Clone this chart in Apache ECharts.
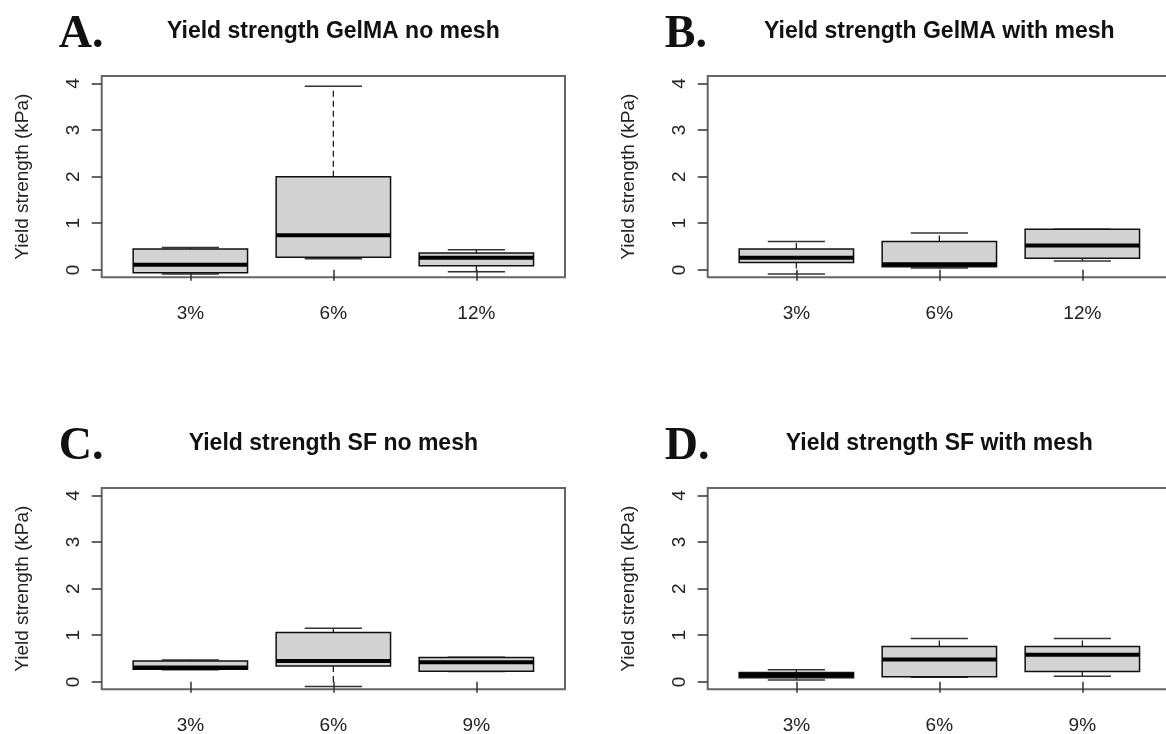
<!DOCTYPE html>
<html><head><meta charset="utf-8">
<script src="https://cdn.jsdelivr.net/npm/echarts@6/dist/echarts.min.js"></script>
<style>html,body{margin:0;padding:0;background:#fff}#c{width:1166px;height:734px}</style>
</head><body><div id="c"></div>
<script>
const catsGelMA = ['3%', '6%', '12%'];
const catsSF = ['3%', '6%', '9%'];
const yTicks = [0, 1, 2, 3, 4];
const panelLetters = ['A.', 'B.', 'C.', 'D.'];
const panelTitles = ['Yield strength GelMA no mesh', 'Yield strength GelMA with mesh', 'Yield strength SF no mesh', 'Yield strength SF with mesh'];
const yAxisName = 'Yield strength (kPa)';
// each box: [min, Q1, median, Q3, max]
const gelmaNoMesh = [[-0.09, -0.06, 0.11, 0.45, 0.48], [0.24, 0.27, 0.74, 2.0, 3.94], [-0.04, 0.09, 0.26, 0.36, 0.43]];
const gelmaMesh = [[-0.09, 0.16, 0.26, 0.45, 0.61], [0.04, 0.065, 0.12, 0.61, 0.79], [0.19, 0.25, 0.52, 0.87, 0.87]];
const sfNoMesh = [[0.26, 0.27, 0.31, 0.45, 0.47], [-0.1, 0.34, 0.45, 1.06, 1.15], [0.22, 0.23, 0.42, 0.52, 0.53]];
const sfMesh = [[0.04, 0.09, 0.145, 0.2, 0.26], [0.1, 0.11, 0.48, 0.76, 0.93], [0.12, 0.22, 0.58, 0.76, 0.93]];

const panelData = [gelmaNoMesh, gelmaMesh, sfNoMesh, sfMesh];
const panelCats = [catsGelMA, catsGelMA, catsSF, catsSF];

const lefts = [101.7, 707.7, 101.7, 707.7];
const tops = [76, 76, 488, 488];
const W = 463.3, H = 201.3;
const SANS = 'Liberation Sans, Arial, sans-serif';
const SERIF = 'Liberation Serif, Times New Roman, serif';

function renderBox(params, api) {
  const x = api.value(0);
  const med = api.value(3);
  const mn = api.coord([x, api.value(1)]);
  const q1 = api.coord([x, api.value(2)]);
  const md = api.coord([x, med]);
  const q3 = api.coord([x, api.value(4)]);
  const mx = api.coord([x, api.value(5)]);
  const bw = api.size([0.8, 0], [x, med])[0];
  const sw = api.size([0.4, 0], [x, med])[0];
  const cx = md[0];
  const dash = { stroke: '#222', lineWidth: 1.3, lineDash: [6, 4] };
  const cap = { stroke: '#333', lineWidth: 1.5 };
  return {
    type: 'group',
    children: [
      { type: 'line', shape: { x1: cx, y1: q3[1], x2: cx, y2: mx[1] }, style: dash },
      { type: 'line', shape: { x1: cx, y1: q1[1], x2: cx, y2: mn[1] }, style: dash },
      { type: 'line', shape: { x1: cx - sw / 2, y1: mx[1], x2: cx + sw / 2, y2: mx[1] }, style: cap },
      { type: 'line', shape: { x1: cx - sw / 2, y1: mn[1], x2: cx + sw / 2, y2: mn[1] }, style: cap },
      { type: 'rect', shape: { x: cx - bw / 2, y: q3[1], width: bw, height: q1[1] - q3[1] },
        style: { fill: '#d3d3d3', stroke: '#111', lineWidth: 1.5 } },
      { type: 'line', shape: { x1: cx - bw / 2, y1: md[1], x2: cx + bw / 2, y2: md[1] },
        style: { stroke: '#000', lineWidth: 4 } }
    ]
  };
}

const grid = [], xAxis = [], yAxis = [], series = [], graphic = [];
for (let i = 0; i < 4; i++) {
  const cats = panelCats[i];
  grid.push({ left: lefts[i], top: tops[i], width: W, height: H, show: true,
    borderColor: '#666', borderWidth: 2, backgroundColor: 'transparent', outerBoundsMode: 'none' });
  xAxis.push({ type: 'value', gridIndex: i, min: 0.38, max: 3.62,
    axisLine: { show: false }, splitLine: { show: false },
    axisTick: { show: true, customValues: [1, 2, 3], length: 11, lineStyle: { color: '#333', width: 1.5 } },
    axisLabel: { customValues: [1, 2, 3], formatter: v => cats[Math.round(v) - 1],
      margin: 27, fontSize: 19, color: '#222', fontFamily: SANS } });
  yAxis.push({ type: 'value', gridIndex: i, min: -0.16, max: 4.16,
    axisLine: { show: false }, splitLine: { show: false },
    axisTick: { show: true, customValues: yTicks, length: 10, lineStyle: { color: '#333', width: 1.5 } },
    axisLabel: { customValues: yTicks, rotate: 90, margin: 18, fontSize: 19, color: '#222', fontFamily: SANS,
      formatter: v => String(v) },
    name: yAxisName, nameLocation: 'middle', nameGap: 69,
    nameTextStyle: { fontSize: 19, color: '#222', fontFamily: SANS } });
  series.push({ type: 'custom', xAxisIndex: i, yAxisIndex: i, renderItem: renderBox,
    encode: { x: 0, y: [1, 2, 3, 4, 5] },
    data: panelData[i].map((s, k) => [k + 1].concat(s)) });
  const cx = lefts[i] + W / 2;
  graphic.push({ type: 'text', x: cx, y: tops[i] - 44,
    style: { text: panelTitles[i], font: 'bold 23px ' + SANS, fill: '#111', textAlign: 'center', textVerticalAlign: 'middle' } });
  graphic.push({ type: 'text', x: lefts[i] - 43, y: tops[i] - 41,
    style: { text: panelLetters[i], font: 'bold 46px ' + SERIF, fill: '#111', textAlign: 'left', textVerticalAlign: 'middle' } });
}

const chart = echarts.init(document.getElementById('c'), null, { renderer: 'canvas' });
chart.setOption({ animation: false, backgroundColor: '#fff', grid, xAxis, yAxis, series, graphic });
</script>
</body></html>
